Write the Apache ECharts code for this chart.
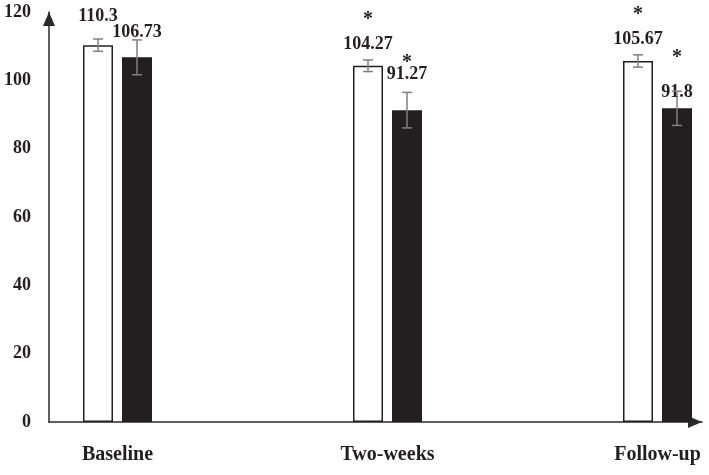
<!DOCTYPE html>
<html>
<head>
<meta charset="utf-8">
<script src="https://cdn.jsdelivr.net/npm/echarts@6/dist/echarts.min.js"></script>
<style>
html,body{margin:0;padding:0;background:#fff;}
#chart{width:709px;height:475px;}
</style>
</head>
<body>
<div id="chart"></div>
<script>
// ---- data ----
const categories = ['Baseline', 'Two-weeks', 'Follow-up'];
const categoryPos = [0, 1, 2];
const group1Mean = [110.3, 104.27, 105.67];
const group1Err = [1.8, 1.7, 1.8];
const group1Sig = [false, true, true];
const group2Mean = [106.73, 91.27, 91.8];
const group2Err = [5.1, 5.2, 5.0];
const group2Sig = [false, true, true];
const yMin = 0, yMax = 120, yStep = 20;
const xMin = -0.2537, xMax = 2.1648;

// ---- styles ----
const FONT = "'Liberation Serif', 'Times New Roman', serif";
const INK = '#231f20';
const AXIS = '#2a2a2a';
const ERR = '#808080';
const BAR_W = 30;
const BAR_GAP = 0.3;
const label1Dist = [20, 12, 13];
const label2Dist = [16, 27, 7];
const star1Line = [0, 31, 31];
const star2Line = [0, 5, 51];

function barItems(means, sig, dist, starLine) {
  return means.map(function (v, i) {
    return {
      value: [categoryPos[i], v],
      label: {
        show: true,
        position: 'top',
        distance: dist[i],
        formatter: sig[i] ? '{s|*}\n{v|' + v + '}' : '{v|' + v + '}',
        rich: {
          s: { fontFamily: FONT, fontWeight: 'bold', fontSize: 20, color: INK, lineHeight: starLine[i] },
          v: { fontFamily: FONT, fontWeight: 'bold', fontSize: 18, color: INK, lineHeight: 18 }
        }
      }
    };
  });
}

function errRender(sign) {
  return function (params, api) {
    const x = api.value(0), m = api.value(1), e = api.value(2);
    const top = api.coord([x, m + e]);
    const bot = api.coord([x, m - e]);
    const cx = top[0] + sign * (BAR_W + BAR_W * BAR_GAP) / 2;
    const cap = 5;
    const st = { stroke: ERR, lineWidth: 1.5 };
    return {
      type: 'group',
      children: [
        { type: 'line', shape: { x1: cx, y1: top[1], x2: cx, y2: bot[1] }, style: st },
        { type: 'line', shape: { x1: cx - cap, y1: top[1], x2: cx + cap, y2: top[1] }, style: st },
        { type: 'line', shape: { x1: cx - cap, y1: bot[1], x2: cx + cap, y2: bot[1] }, style: st }
      ]
    };
  };
}

const chart = echarts.init(document.getElementById('chart'), null, { renderer: 'canvas' });
chart.setOption({
  animation: false,
  backgroundColor: '#fff',
  grid: { left: 49, right: 7, top: 12, bottom: 53, containLabel: false },
  xAxis: {
    type: 'value', min: xMin, max: xMax,
    splitLine: { show: false },
    axisTick: { show: false },
    axisLine: { show: true, onZero: false, lineStyle: { color: AXIS, width: 1.5 }, symbol: ['none', 'triangle'], symbolSize: [12, 14], symbolOffset: [0, -7] },
    axisLabel: {
      customValues: categoryPos,
      formatter: function (v) { return categories[Math.round(v)]; },
      margin: 23, fontFamily: FONT, fontWeight: 'bold', fontSize: 20, color: INK
    }
  },
  yAxis: {
    type: 'value', min: yMin, max: yMax, interval: yStep,
    splitLine: { show: false }, axisTick: { show: false },
    axisLine: { show: true, onZero: false, lineStyle: { color: AXIS, width: 1.5 }, symbol: ['none', 'triangle'], symbolSize: [12, 14], symbolOffset: [0, -7] },
    axisLabel: { margin: 18, fontFamily: FONT, fontWeight: 'bold', fontSize: 18, color: INK }
  },
  series: [
    {
      type: 'bar',
      barWidth: BAR_W, barGap: (BAR_GAP * 100) + '%',
      itemStyle: { color: '#ffffff', borderColor: INK, borderWidth: 1.5 },
      data: barItems(group1Mean, group1Sig, label1Dist, star1Line),
      z: 2
    },
    {
      type: 'bar',
      barWidth: BAR_W, barGap: (BAR_GAP * 100) + '%',
      itemStyle: { color: INK },
      data: barItems(group2Mean, group2Sig, label2Dist, star2Line),
      z: 2
    },
    {
      type: 'custom', z: 5,
      renderItem: errRender(-1),
      data: group1Mean.map(function (m, i) { return [categoryPos[i], m, group1Err[i]]; })
    },
    {
      type: 'custom', z: 5,
      renderItem: errRender(1),
      data: group2Mean.map(function (m, i) { return [categoryPos[i], m, group2Err[i]]; })
    }
  ]
});
</script>
</body>
</html>
